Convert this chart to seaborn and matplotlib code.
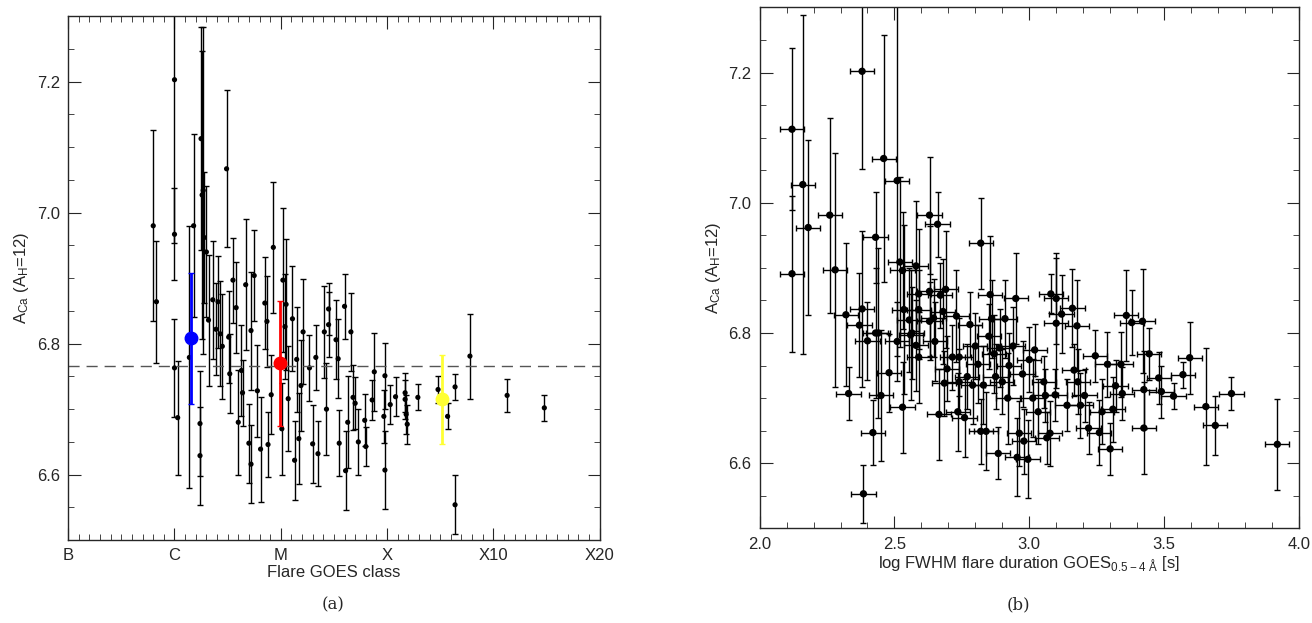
import matplotlib
matplotlib.use('Agg')
import matplotlib.pyplot as plt
import numpy as np
import pandas as pd
import seaborn as sns
from matplotlib.ticker import MultipleLocator

# panel (a): flare class position (B=0, C=1, M=2, X=3, X10=4, X20=5), A_Ca, error
class_pos = [0.80, 0.83, 1.00, 1.00, 1.00, 1.03, 1.14, 1.18, 1.24, 1.24, 1.25, 1.26, 1.27, 1.28,
             1.30, 1.32, 1.36, 1.39, 1.41, 1.43, 1.45, 1.49, 1.51, 1.52, 1.55, 1.58, 1.60, 1.63,
             1.64, 1.67, 1.70, 1.72, 1.72, 1.75, 1.78, 1.81, 1.85, 1.87, 1.88, 1.91, 1.93, 2.01,
             2.02, 2.04, 2.05, 2.07, 2.11, 2.13, 2.15, 2.17, 2.19, 2.21, 2.27, 2.30, 2.33, 2.35,
             2.41, 2.43, 2.45, 2.45, 2.52, 2.54, 2.55, 2.60, 2.61, 2.63, 2.66, 2.68, 2.70, 2.73,
             2.79, 2.80, 2.86, 2.88, 2.97, 2.98, 2.98, 3.03, 3.08, 3.17, 3.17, 3.18, 3.19, 3.29,
             3.48, 3.57, 3.64, 3.64, 3.78, 4.13, 4.48]
ca_a = [6.980, 6.864, 7.203, 6.967, 6.763, 6.687, 6.779, 6.980, 6.678, 6.629, 7.113, 7.027, 7.034, 6.962,
        6.940, 6.836, 6.867, 6.822, 6.864, 6.815, 6.796, 7.067, 6.810, 6.754, 6.897, 6.855, 6.680, 6.759,
        6.725, 6.890, 6.648, 6.616, 6.820, 6.904, 6.728, 6.639, 6.862, 6.834, 6.646, 6.722, 6.947, 6.670,
        6.897, 6.826, 6.860, 6.716, 6.838, 6.622, 6.776, 6.655, 6.736, 6.818, 6.763, 6.647, 6.779, 6.632,
        6.818, 6.700, 6.853, 6.829, 6.806, 6.777, 6.648, 6.857, 6.606, 6.680, 6.818, 6.718, 6.709, 6.650,
        6.683, 6.643, 6.714, 6.757, 6.689, 6.607, 6.751, 6.707, 6.719, 6.725, 6.715, 6.692, 6.677, 6.718,
        6.730, 6.689, 6.734, 6.554, 6.781, 6.721, 6.702]
err_a = [0.146, 0.093, 0.250, 0.070, 0.075, 0.087, 0.200, 0.140, 0.080, 0.075, 0.170, 0.220, 0.250, 0.100,
         0.100, 0.100, 0.090, 0.070, 0.070, 0.080, 0.080, 0.120, 0.070, 0.060, 0.065, 0.070, 0.080, 0.070,
         0.050, 0.100, 0.060, 0.060, 0.090, 0.070, 0.070, 0.080, 0.070, 0.070, 0.050, 0.060, 0.100, 0.070,
         0.110, 0.080, 0.100, 0.080, 0.080, 0.060, 0.080, 0.070, 0.070, 0.080, 0.050, 0.060, 0.050, 0.050,
         0.070, 0.070, 0.040, 0.050, 0.060, 0.060, 0.050, 0.050, 0.060, 0.070, 0.060, 0.050, 0.040, 0.050,
         0.040, 0.030, 0.030, 0.060, 0.040, 0.060, 0.050, 0.030, 0.030, 0.030, 0.030, 0.030, 0.030, 0.020,
         0.020, 0.020, 0.020, 0.045, 0.065, 0.025, 0.020]
# class averages (C, M, X)
mean_pos = [1.16, 1.99, 3.52]
mean_ca = [6.808, 6.770, 6.715]
mean_err = [0.100, 0.095, 0.068]
mean_colors = ['#0000ff', '#ff0000', '#ffff33']
ca_photo = 6.766
class_labels = ['B', 'C', 'M', 'X', 'X10', 'X20']

# panel (b): log FWHM duration, A_Ca, error
log_dur = [2.12, 2.12, 2.16, 2.18, 2.26, 2.28, 2.32, 2.33, 2.37, 2.38, 2.38, 2.385, 2.40, 2.42,
           2.43, 2.43, 2.44, 2.45, 2.46, 2.48, 2.51, 2.51, 2.52, 2.53, 2.53, 2.535, 2.555, 2.56,
           2.565, 2.58, 2.58, 2.59, 2.59, 2.59, 2.63, 2.63, 2.63, 2.645, 2.65, 2.66, 2.665, 2.67,
           2.68, 2.685, 2.69, 2.695, 2.715, 2.73, 2.735, 2.74, 2.74, 2.76, 2.77, 2.78, 2.79, 2.80,
           2.81, 2.82, 2.82, 2.83, 2.84, 2.85, 2.855, 2.86, 2.87, 2.875, 2.885, 2.89, 2.90, 2.91,
           2.92, 2.925, 2.94, 2.95, 2.955, 2.963, 2.975, 2.98, 2.995, 3.00, 3.013, 3.02, 3.033, 3.054,
           3.06, 3.065, 3.077, 3.08, 3.096, 3.10, 3.10, 3.12, 3.14, 3.16, 3.166, 3.177, 3.18, 3.19,
           3.205, 3.22, 3.245, 3.26, 3.27, 3.29, 3.30, 3.31, 3.32, 3.34, 3.345, 3.36, 3.38, 3.42,
           3.425, 3.425, 3.445, 3.48, 3.49, 3.535, 3.57, 3.595, 3.655, 3.69, 3.75, 3.92]
ca_b = [7.113, 6.891, 7.028, 6.962, 6.981, 6.897, 6.828, 6.707, 6.812, 7.202, 6.837, 6.553, 6.788, 6.647,
        6.800, 6.947, 6.800, 6.704, 7.068, 6.739, 7.034, 6.787, 6.909, 6.686, 6.896, 6.836, 6.820, 6.797,
        6.800, 6.781, 6.903, 6.860, 6.763, 6.836, 6.981, 6.864, 6.818, 6.823, 6.787, 6.967, 6.675, 6.858,
        6.833, 6.723, 6.867, 6.745, 6.763, 6.826, 6.679, 6.725, 6.763, 6.670, 6.733, 6.813, 6.720, 6.780,
        6.752, 6.938, 6.649, 6.720, 6.649, 6.795, 6.859, 6.822, 6.768, 6.733, 6.615, 6.777, 6.725, 6.822,
        6.700, 6.750, 6.780, 6.853, 6.609, 6.646, 6.737, 6.634, 6.606, 6.759, 6.700, 6.774, 6.679, 6.725,
        6.704, 6.639, 6.646, 6.860, 6.705, 6.815, 6.853, 6.829, 6.689, 6.838, 6.743, 6.811, 6.725, 6.689,
        6.704, 6.654, 6.765, 6.647, 6.679, 6.752, 6.622, 6.683, 6.719, 6.752, 6.707, 6.827, 6.816, 6.818,
        6.713, 6.654, 6.768, 6.731, 6.710, 6.703, 6.736, 6.762, 6.687, 6.658, 6.707, 6.629]
err_b = [0.124, 0.120, 0.260, 0.135, 0.150, 0.180, 0.110, 0.040, 0.080, 0.150, 0.120, 0.045, 0.060, 0.050,
         0.100, 0.070, 0.130, 0.100, 0.190, 0.060, 0.270, 0.060, 0.130, 0.070, 0.090, 0.130, 0.080, 0.100,
         0.070, 0.070, 0.100, 0.100, 0.070, 0.060, 0.090, 0.100, 0.060, 0.060, 0.060, 0.050, 0.070, 0.050,
         0.080, 0.050, 0.090, 0.050, 0.050, 0.070, 0.060, 0.050, 0.060, 0.060, 0.050, 0.050, 0.060, 0.050,
         0.060, 0.070, 0.050, 0.060, 0.060, 0.050, 0.090, 0.060, 0.060, 0.050, 0.040, 0.060, 0.050, 0.060,
         0.070, 0.050, 0.060, 0.070, 0.060, 0.050, 0.050, 0.050, 0.060, 0.050, 0.060, 0.040, 0.050, 0.040,
         0.040, 0.040, 0.050, 0.030, 0.040, 0.100, 0.070, 0.060, 0.040, 0.060, 0.040, 0.070, 0.050, 0.050,
         0.040, 0.040, 0.040, 0.050, 0.050, 0.050, 0.040, 0.050, 0.040, 0.050, 0.040, 0.070, 0.050, 0.080,
         0.060, 0.070, 0.040, 0.040, 0.040, 0.020, 0.020, 0.055, 0.090, 0.045, 0.025, 0.070]
dur_err = 0.045

df_a = pd.DataFrame({'cls': class_pos, 'ca': ca_a, 'err': err_a})
df_b = pd.DataFrame({'dur': log_dur, 'ca': ca_b, 'err': err_b})

sns.set_style('ticks')
plt.rcParams['font.family'] = ['Liberation Sans', 'DejaVu Sans']
plt.rcParams['mathtext.fontset'] = 'custom'
plt.rcParams['mathtext.rm'] = 'Liberation Sans'

fig = plt.figure(figsize=(13.12, 6.23), dpi=100)
ax1 = fig.add_axes([0.052, 0.133, 0.405, 0.841])
ax2 = fig.add_axes([0.579, 0.152, 0.411, 0.836])

ylab = r'$\mathrm{A_{Ca}\ (A_H}$=12)'

# panel (a)
ax1.errorbar(df_a['cls'], df_a['ca'], yerr=df_a['err'], fmt='none', ecolor='black',
             elinewidth=1, capsize=2)
sns.scatterplot(data=df_a, x='cls', y='ca', ax=ax1, color='black', s=14, edgecolor='none')
ax1.axhline(ca_photo, color='#555555', ls=(0, (8, 5)), lw=1)
for p, c, e, col in zip(mean_pos, mean_ca, mean_err, mean_colors):
    ax1.errorbar([p], [c], yerr=[e], fmt='o', color=col, ms=9, elinewidth=2, capsize=2)
ax1.set_xlim(0, 5)
ax1.set_ylim(6.5, 7.3)
ax1.set_xticks(range(6))
ax1.set_xticklabels(class_labels)
ax1.xaxis.set_minor_locator(MultipleLocator(0.1))
ax1.set_xlabel('Flare GOES class', fontsize=12, labelpad=1)
ax1.set_ylabel(ylab, fontsize=12)

# panel (b)
ax2.errorbar(df_b['dur'], df_b['ca'], yerr=df_b['err'], xerr=dur_err, fmt='none',
             ecolor='black', elinewidth=1, capsize=2)
sns.scatterplot(data=df_b, x='dur', y='ca', ax=ax2, color='black', s=28, edgecolor='none')
ax2.set_xlim(2.0, 4.0)
ax2.set_ylim(6.5, 7.3)
ax2.set_xticks([2.0, 2.5, 3.0, 3.5, 4.0])
ax2.xaxis.set_minor_locator(MultipleLocator(0.1))
ax2.set_xlabel(r'log FWHM flare duration GOES$_{\mathrm{0.5-4\ \AA}}$ [s]', fontsize=12, labelpad=2)
ax2.set_ylabel(ylab, fontsize=12)

for ax in (ax1, ax2):
    ax.set_yticks([6.6, 6.8, 7.0, 7.2])
    ax.yaxis.set_minor_locator(MultipleLocator(0.05))
    ax.tick_params(which='both', direction='in', top=True, right=True, labelsize=12)
    ax.tick_params(which='major', length=9, pad=6)
    ax.tick_params(which='minor', length=4)
    for s in ax.spines.values():
        s.set_linewidth(1)

fig.text(0.254, 0.022, '(a)', family='DejaVu Serif', fontsize=12, ha='center')
fig.text(0.776, 0.022, '(b)', family='DejaVu Serif', fontsize=12, ha='center')

fig.savefig('out.png', dpi=100)
